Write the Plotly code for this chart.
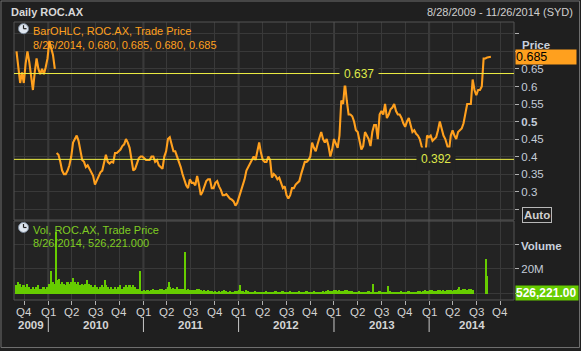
import pandas as pd
import plotly.graph_objects as go

# ---------------- data ----------------
last_date_text = "8/26/2014"
last_ohlc = [0.680, 0.685, 0.680, 0.685]
last_volume = 526221
series_end = "2014-08-26"

# weekly closing prices, Sep 2009 .. Aug 2014
price_close = [
    0.70, 0.655, 0.61, 0.64, 0.61, 0.665, 0.70, 0.67, 0.62, 0.59, 0.64, 0.68, 0.65, 0.635, 0.65, 0.635,
    0.655, 0.68, 0.73, 0.71, 0.69, 0.65,
    0.41, 0.405, 0.385, 0.36, 0.35, 0.35, 0.36, 0.375, 0.40, 0.44, 0.45, 0.46, 0.445, 0.42, 0.39, 0.385,
    0.37, 0.375, 0.365, 0.355, 0.345, 0.32, 0.333, 0.345, 0.355, 0.36, 0.385, 0.405, 0.385, 0.38, 0.385, 0.383,
    0.41, 0.41, 0.415, 0.42, 0.43, 0.435, 0.45, 0.44, 0.425, 0.385, 0.36, 0.365, 0.38, 0.395, 0.40, 0.40,
    0.395, 0.39, 0.39, 0.39, 0.40, 0.40, 0.385, 0.39, 0.375, 0.37, 0.365, 0.40, 0.415, 0.45, 0.455, 0.435,
    0.415, 0.415, 0.40, 0.39, 0.37, 0.35, 0.33, 0.318, 0.31, 0.335, 0.325, 0.325, 0.318, 0.345, 0.32, 0.29,
    0.30, 0.315, 0.33, 0.335, 0.335, 0.31,
    0.31, 0.325, 0.33, 0.315, 0.305, 0.29, 0.29, 0.293, 0.285, 0.28, 0.277, 0.272, 0.26, 0.268, 0.285, 0.30,
    0.315, 0.335, 0.36, 0.37, 0.38, 0.39, 0.40, 0.39, 0.42, 0.44, 0.41, 0.39, 0.385, 0.385, 0.40, 0.39,
    0.34, 0.35, 0.345, 0.335, 0.34, 0.325, 0.31, 0.315, 0.29, 0.28, 0.29, 0.31, 0.31, 0.32, 0.325, 0.33,
    0.35, 0.37, 0.385, 0.385, 0.39, 0.40, 0.44,
    0.425, 0.415, 0.435, 0.455, 0.47, 0.45, 0.44, 0.45, 0.43, 0.40, 0.42, 0.45, 0.435, 0.425, 0.46, 0.56,
    0.55, 0.61, 0.56, 0.52, 0.52, 0.515, 0.50, 0.475, 0.47, 0.44, 0.42, 0.43, 0.47, 0.46, 0.45, 0.43,
    0.47, 0.49, 0.49, 0.45, 0.52, 0.53, 0.52, 0.55, 0.51, 0.52, 0.535, 0.54, 0.55, 0.53, 0.52, 0.52,
    0.51, 0.495, 0.485, 0.50, 0.51, 0.49, 0.47,
    0.475, 0.465, 0.46, 0.45, 0.43, 0.415, 0.40, 0.46, 0.455, 0.46, 0.445, 0.45, 0.455, 0.475, 0.50, 0.48,
    0.46, 0.45, 0.435, 0.415, 0.46, 0.475, 0.46, 0.45, 0.47, 0.475, 0.48, 0.495, 0.525, 0.55, 0.55, 0.55,
    0.62, 0.59, 0.575, 0.59, 0.59, 0.60, 0.68, 0.68, 0.683, 0.685, 0.685,
]
gap_after_week = 22  # price gap (no bars) between week 21 and week 22

# weekly typical volume (millions)
volume_m = [
    6.7, 9.0, 8.0, 5.3, 6.7, 5.3, 8.0, 5.3, 4.0, 5.3, 4.0, 5.3, 6.7, 4.0, 4.0, 5.3,
    4.0, 5.3, 8.0, 6.7, 9.3, 8.0, 10.7, 10.7, 8.0, 9.3, 8.0, 6.7, 9.3, 8.0, 9.3, 10.7,
    9.3, 8.0, 9.3, 6.7, 8.0, 6.7, 8.0, 6.7, 8.0, 6.7, 5.3, 6.7, 5.3, 4.0, 5.3, 6.7,
    5.3, 6.7, 5.3, 4.0, 5.3, 4.0, 5.3, 4.0, 5.3, 6.7, 4.0, 5.3, 6.7, 5.3, 6.7, 5.3,
    6.7, 5.3, 4.0, 4.0, 2.1, 2.1, 2.7, 2.1, 2.7, 2.1, 3.2, 4.0, 2.7, 3.2, 2.7, 3.5,
    4.0, 3.2, 4.0, 5.3, 5.3, 4.0, 4.5, 4.0, 5.3, 4.0, 3.5, 4.0, 3.5, 2.7, 4.0, 3.2,
    2.7, 3.2, 2.7, 4.0, 3.5, 2.7, 2.1, 2.7, 2.1, 2.7, 1.9, 2.1, 1.6, 1.9, 1.6, 2.1,
    1.6, 2.1, 2.7, 1.9, 1.6, 1.9, 1.3, 1.6, 1.9, 2.1, 2.7, 2.1, 1.9, 1.6, 2.7, 1.9,
    1.6, 1.3, 1.6, 2.1, 1.6, 1.3, 1.6, 1.3, 1.6, 1.9, 1.3, 1.6, 1.3, 1.6, 1.9, 1.3,
    1.6, 1.3, 1.9, 1.6, 1.3, 1.6, 2.1, 1.3, 1.6, 1.3, 1.6, 1.9, 1.3, 1.6, 1.3, 1.9,
    1.6, 1.3, 1.6, 1.9, 1.3, 1.6, 1.3, 1.6, 1.9, 1.6, 2.1, 2.7, 2.4, 2.1, 2.7, 3.2,
    2.4, 2.7, 2.1, 2.4, 3.2, 2.7, 2.1, 2.4, 2.1, 1.6, 1.3, 1.6, 1.9, 1.3, 1.6, 1.3,
    1.6, 1.9, 1.3, 1.6, 1.3, 1.6, 1.3, 1.9, 1.6, 1.3, 1.6, 1.3, 1.6, 1.9, 1.3, 1.6,
    1.3, 1.6, 1.3, 1.9, 1.6, 1.3, 1.6, 1.9, 1.3, 1.6, 1.3, 1.6, 1.9, 2.1, 1.6, 2.4,
    2.7, 2.1, 2.4, 3.2, 2.7, 2.1, 2.4, 2.7, 3.2, 2.4, 2.7, 2.1, 2.7, 3.2, 2.7, 2.4,
    3.2, 2.7, 3.5, 2.7, 3.2, 4.0, 3.5, 3.2, 4.0, 3.5, 2.7,
]

# single-day volume spikes (millions)
spike_dates = ["2010-01-11", "2010-01-29", "2010-02-10", "2010-04-07", "2010-05-31", "2010-08-06",
               "2010-12-17", "2011-04-08", "2011-06-09", "2012-01-06", "2013-05-30", "2013-07-26",
               "2014-04-24", "2014-08-08", "2014-08-12"]
spike_vol_m = [18.7, 50.0, 12.0, 13.0, 11.0, 11.0, 18.0, 9.0, 34.0, 6.7, 8.0, 6.5, 5.0, 28.0, 14.0]

levels = [0.637, 0.392]
level_label_dates = ["2013-04-07", "2014-01-27"]

quarter_ticks = ["2009-10-01",
                 "2010-01-01", "2010-04-01", "2010-07-01", "2010-10-01",
                 "2011-01-01", "2011-04-01", "2011-07-01", "2011-10-01",
                 "2012-01-01", "2012-04-01", "2012-07-01", "2012-10-01",
                 "2013-01-01", "2013-04-01", "2013-07-01", "2013-10-01",
                 "2014-01-01", "2014-04-01", "2014-07-01", "2014-10-01"]
quarter_labels = ["Q4"] + ["Q1", "Q2", "Q3", "Q4"] * 5
years = [2009, 2010, 2011, 2012, 2013, 2014]

price_ticks = [0.25, 0.30, 0.35, 0.40, 0.45, 0.50, 0.55, 0.60, 0.65, 0.70, 0.75]
price_tick_text = ["", "0.3", "0.35", "0.4", "0.45", "<b>0.5</b>", "0.55", "0.6", "0.65", "", ""]
vol_ticks = [0, 20e6, 40e6]
vol_tick_text = ["", "20M", ""]

# ---------------- styling ----------------
FONT = "Liberation Sans"
PAPER = "#1f1f1f"
PLOT = "#232323"
GRID = "#393939"
ORANGE = "#ffa01e"
GREEN = "#66cc00"
x_range = ["2009-08-22 10:00", "2014-11-22 14:00"]

dates = pd.date_range(end=series_end, periods=len(price_close), freq="7D")
vol = [v * 1e6 for v in volume_m]
spk = [v * 1e6 for v in spike_vol_m]

fig = go.Figure()

# price (two pieces around the gap)
fig.add_trace(go.Scatter(x=dates[:gap_after_week], y=price_close[:gap_after_week], mode="lines",
                         line=dict(color=ORANGE, width=2.1), xaxis="x", yaxis="y", hoverinfo="skip"))
fig.add_trace(go.Scatter(x=dates[gap_after_week:], y=price_close[gap_after_week:], mode="lines",
                         line=dict(color=ORANGE, width=2.1), xaxis="x", yaxis="y", hoverinfo="skip"))

# volume
fig.add_trace(go.Bar(x=dates, y=vol, width=7 * 86400000, marker=dict(color=GREEN, line=dict(width=0)),
                     xaxis="x2", yaxis="y2", hoverinfo="skip"))
fig.add_trace(go.Bar(x=pd.to_datetime(spike_dates), y=spk, width=4 * 86400000,
                     marker=dict(color=GREEN, line=dict(width=0)), xaxis="x2", yaxis="y2", hoverinfo="skip"))

# pixel -> paper helpers for decorations
L, R, T, B, W, H = 14, 67, 22, 51, 581, 351
PW, PH = W - L - R, H - T - B
def px(x):
    return (x - L) / PW
def py(y):
    return (H - B - y) / PH

shapes = []
annotations = []

# panel frames
for xr, yr in (("x domain", "y domain"), ("x2 domain", "y2 domain")):
    shapes.append(dict(type="rect", xref=xr, yref=yr, x0=0, x1=1, y0=0, y1=1,
                       line=dict(color="#555555", width=1), layer="above"))
# outer frame
shapes.append(dict(type="rect", xref="paper", yref="paper", x0=px(1), x1=px(579.5), y0=py(347.5), y1=py(1),
                   line=dict(color="#6e6e6e", width=1)))

# quarter labels
for qd, ql in zip(quarter_ticks, quarter_labels):
    annotations.append(dict(x=pd.Timestamp(qd), y=py(311.5), xref="x", yref="paper", text=ql, showarrow=False,
                            font=dict(family=FONT, size=11.5, color="#d4d4d4"), xanchor="center",
                            yanchor="middle"))

# year grid lines, separators and labels
xmin, xmax = pd.Timestamp(x_range[0]), pd.Timestamp(x_range[1])
for yv in years:
    ys = pd.Timestamp(f"{yv}-01-01")
    if xmin < ys < xmax:
        shapes.append(dict(type="line", xref="x", yref="paper", x0=ys, x1=ys, y0=0, y1=1,
                           line=dict(color="#3e3e3e", width=2), layer="below"))
        shapes.append(dict(type="line", xref="x", yref="paper", x0=ys, x1=ys, y0=py(317), y1=py(332),
                           line=dict(color="#c8c8c8", width=1)))
    s = max(ys, xmin)
    e = min(pd.Timestamp(f"{yv + 1}-01-01"), xmax)
    mid = s + (e - s) / 2
    annotations.append(dict(x=mid, y=py(325), xref="x", yref="paper", text=f"<b>{yv}</b>", showarrow=False,
                            font=dict(family=FONT, size=11.5, color="#d4d4d4"), xanchor="center", yanchor="middle"))

# horizontal level lines with labels
for lv, ld in zip(levels, level_label_dates):
    shapes.append(dict(type="line", xref="x domain", yref="y", x0=0, x1=1, y0=lv, y1=lv,
                       line=dict(color="#eeee44", width=1)))
    annotations.append(dict(x=pd.Timestamp(ld), y=lv, xref="x", yref="y", text=f"{lv:.3f}", showarrow=False,
                            font=dict(family=FONT, size=12, color="#dfe84a"), bgcolor=PLOT, borderpad=4,
                            xanchor="center", yanchor="middle"))

# header texts
annotations.append(dict(x=px(9), y=py(12), xref="paper", yref="paper", text="<b>Daily ROC.AX</b>",
                        showarrow=False, xanchor="left", yanchor="middle",
                        font=dict(family=FONT, size=11, color="#d8d8d8")))
annotations.append(dict(x=px(575), y=py(12), xref="paper", yref="paper",
                        text="8/28/2009 - 11/26/2014 (SYD)", showarrow=False, xanchor="right", yanchor="middle",
                        font=dict(family=FONT, size=11, color="#cfcfcf")))

# legends inside panels
ohlc_txt = ", ".join(f"{v:.3f}" for v in last_ohlc)
for (yc, l1, l2, col) in ((30.7, "BarOHLC, ROC.AX, Trade Price", f"{last_date_text}, {ohlc_txt}", ORANGE),
                          (229.5, "Vol, ROC.AX, Trade Price", f"{last_date_text}, {last_volume:,.3f}", "#7fcc22")):
    annotations.append(dict(x=px(31), y=py(yc), xref="paper", yref="paper", text=l1, showarrow=False,
                            xanchor="left", yanchor="middle", font=dict(family=FONT, size=11, color=col)))
    annotations.append(dict(x=px(31), y=py(yc + 14), xref="paper", yref="paper", text=l2, showarrow=False,
                            xanchor="left", yanchor="middle", font=dict(family=FONT, size=11, color=col)))
    cy = yc - 2
    shapes.append(dict(type="circle", xref="paper", yref="paper", x0=px(18.5), x1=px(28.5),
                       y0=py(cy + 5), y1=py(cy - 5), fillcolor="#dfe6ef", line=dict(color="#7d8b9c", width=1)))
    shapes.append(dict(type="line", xref="paper", yref="paper", x0=px(23.5), x1=px(23.5),
                       y0=py(cy), y1=py(cy - 3.5), line=dict(color="#222222", width=1.2)))
    shapes.append(dict(type="line", xref="paper", yref="paper", x0=px(23.5), x1=px(26.5),
                       y0=py(cy), y1=py(cy), line=dict(color="#222222", width=1.2)))

# right axis titles and value boxes
annotations.append(dict(x=px(520), y=py(45), xref="paper", yref="paper", text="<b>Price</b>", showarrow=False,
                        xanchor="left", yanchor="middle", font=dict(family=FONT, size=11.5, color="#c8d0dc")))
annotations.append(dict(x=px(519), y=py(246), xref="paper", yref="paper", text="<b>Volume</b>", showarrow=False,
                        xanchor="left", yanchor="middle", font=dict(family=FONT, size=11.5, color="#c8d0dc")))
annotations.append(dict(x=px(521.5), y=py(214.5), xref="paper", yref="paper", text="<b>Auto</b>", showarrow=False,
                        xanchor="left", yanchor="middle", bordercolor="#b8b8b8", borderwidth=1, borderpad=1,
                        bgcolor=PAPER, font=dict(family=FONT, size=11.5, color="#d0d0d0")))
annotations.append(dict(x=px(514.5), y=price_close[-1], xref="paper", yref="y", text=f"{last_ohlc[3]:.3f}",
                        showarrow=False, xanchor="left", yanchor="middle", align="left", width=60,
                        bgcolor=ORANGE, borderpad=0, font=dict(family=FONT, size=12.5, color="#000000")))
annotations.append(dict(x=px(514.5), y=last_volume, xref="paper", yref="y2", text=f"<b>{last_volume:,.2f}</b>",
                        showarrow=False, xanchor="left", yanchor="middle", align="left", width=62,
                        bgcolor=GREEN, borderpad=0, font=dict(family=FONT, size=12, color="#ffffff")))

fig.update_layout(
    width=W, height=H, margin=dict(l=L, r=R, t=T, b=B),
    paper_bgcolor=PAPER, plot_bgcolor=PLOT, showlegend=False, bargap=0,
    font=dict(family=FONT, size=11, color="#cccccc"),
    xaxis=dict(domain=[0, 1], range=x_range, anchor="y", tickvals=quarter_ticks, showticklabels=False,
               showgrid=True, gridcolor=GRID, gridwidth=1, zeroline=False, ticks=""),
    xaxis2=dict(domain=[0, 1], range=x_range, anchor="y2", matches="x", tickvals=quarter_ticks,
                showticklabels=False, ticks="outside", ticklen=4, tickcolor="#b0b0b0",
                showgrid=True, gridcolor=GRID, gridwidth=1, zeroline=False),
    yaxis=dict(domain=[py(220), 1], range=[0.219, 0.784], side="right", anchor="x", tickvals=price_ticks,
               ticktext=price_tick_text, ticks="outside", ticklen=4, tickcolor="#b0b0b0",
               tickfont=dict(family=FONT, size=11.5, color="#c4ccd8"), showgrid=True, gridcolor=GRID,
               zeroline=False),
    yaxis2=dict(domain=[0, py(221)], range=[-5.2e6, 58.8e6], side="right", anchor="x2", tickvals=vol_ticks,
                ticktext=vol_tick_text, ticks="outside", ticklen=4, tickcolor="#b0b0b0",
                tickfont=dict(family=FONT, size=11.5, color="#c4ccd8"), showgrid=True, gridcolor=GRID,
                zeroline=False),
    shapes=shapes, annotations=annotations,
)

fig.write_html("out.html")
